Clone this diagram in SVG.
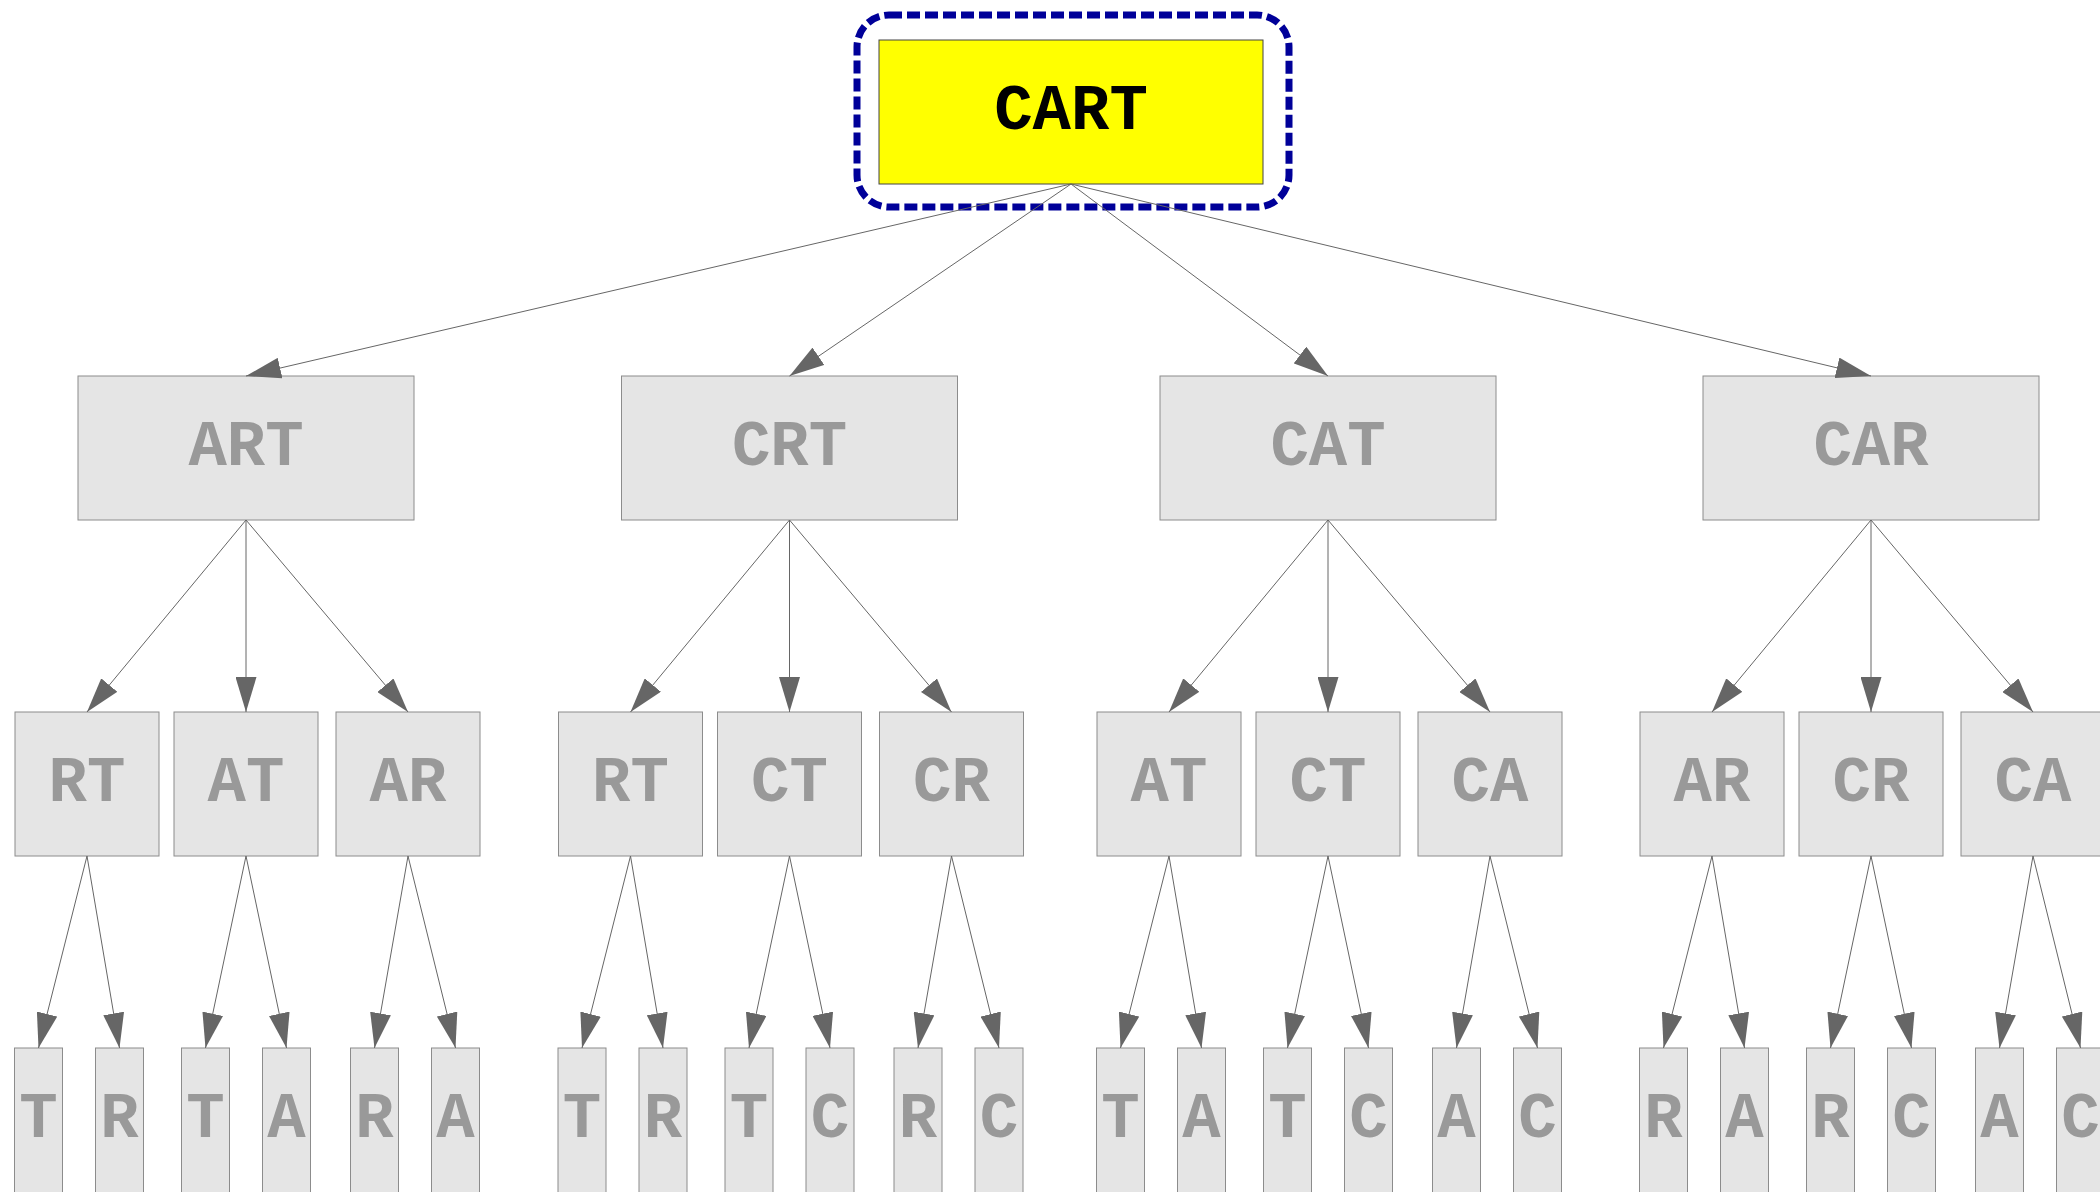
<svg xmlns="http://www.w3.org/2000/svg" width="2100" height="1192" viewBox="0 0 2100 1192">
  <style>
    .box { fill: #e5e5e5; stroke: #8c8c8c; stroke-width: 1; }
    .root { fill: #ffff00; stroke: #444; stroke-width: 1; }
    .lbl { font-family: "Courier New", "Nimbus Mono PS", "Nimbus Mono L", "FreeMono", Courier, "Liberation Mono", monospace; font-weight: bold; font-size: 64px; text-anchor: middle; fill: #999; }
    .rootlbl { fill: #000; }
    .edge { stroke: #666; stroke-width: 1; fill: none; marker-end: url(#arr); }
    .cluster { fill: none; stroke: #000099; stroke-width: 7; stroke-dasharray: 13 5; }
  </style>
  <defs>
    <marker id="arr" markerUnits="userSpaceOnUse" viewBox="0 0 35 21" markerWidth="35" markerHeight="21" refX="35" refY="10.5" orient="auto">
      <path d="M0,0 L35,10.5 L0,21 Z" fill="#666"/>
    </marker>
  </defs>
  <rect width="2100" height="1192" fill="#fff"/>

  <!-- highlighted start word -->
  <rect class="cluster" x="857" y="15" width="432" height="192" rx="32" ry="32"/>

  <g id="n-CART">
    <rect class="root" x="879" y="40" width="384" height="144"/>
    <text class="lbl rootlbl" x="1071" y="129">CART</text>
  </g>

  <!-- level 1 -->
  <g id="n-ART"><rect class="box" x="78" y="376" width="336" height="144"/><text class="lbl" x="246" y="465">ART</text></g>
  <g id="n-CRT"><rect class="box" x="621.5" y="376" width="336" height="144"/><text class="lbl" x="789.5" y="465">CRT</text></g>
  <g id="n-CAT"><rect class="box" x="1160" y="376" width="336" height="144"/><text class="lbl" x="1328" y="465">CAT</text></g>
  <g id="n-CAR"><rect class="box" x="1703" y="376" width="336" height="144"/><text class="lbl" x="1871" y="465">CAR</text></g>

  <!-- level 2 -->
  <g id="n-ART-RT"><rect class="box" x="15" y="712" width="144" height="144"/><text class="lbl" x="87" y="801">RT</text></g>
  <g id="n-ART-AT"><rect class="box" x="174" y="712" width="144" height="144"/><text class="lbl" x="246" y="801">AT</text></g>
  <g id="n-ART-AR"><rect class="box" x="336" y="712" width="144" height="144"/><text class="lbl" x="408" y="801">AR</text></g>
  <g id="n-CRT-RT"><rect class="box" x="558.5" y="712" width="144" height="144"/><text class="lbl" x="630.5" y="801">RT</text></g>
  <g id="n-CRT-CT"><rect class="box" x="717.5" y="712" width="144" height="144"/><text class="lbl" x="789.5" y="801">CT</text></g>
  <g id="n-CRT-CR"><rect class="box" x="879.5" y="712" width="144" height="144"/><text class="lbl" x="951.5" y="801">CR</text></g>
  <g id="n-CAT-AT"><rect class="box" x="1097" y="712" width="144" height="144"/><text class="lbl" x="1169" y="801">AT</text></g>
  <g id="n-CAT-CT"><rect class="box" x="1256" y="712" width="144" height="144"/><text class="lbl" x="1328" y="801">CT</text></g>
  <g id="n-CAT-CA"><rect class="box" x="1418" y="712" width="144" height="144"/><text class="lbl" x="1490" y="801">CA</text></g>
  <g id="n-CAR-AR"><rect class="box" x="1640" y="712" width="144" height="144"/><text class="lbl" x="1712" y="801">AR</text></g>
  <g id="n-CAR-CR"><rect class="box" x="1799" y="712" width="144" height="144"/><text class="lbl" x="1871" y="801">CR</text></g>
  <g id="n-CAR-CA"><rect class="box" x="1961" y="712" width="144" height="144"/><text class="lbl" x="2033" y="801">CA</text></g>

  <!-- level 3 -->
  <g id="n-1"><rect class="box" x="14.5" y="1048" width="48" height="150"/><text class="lbl" x="38.5" y="1137">T</text></g>
  <g id="n-2"><rect class="box" x="95.5" y="1048" width="48" height="150"/><text class="lbl" x="119.5" y="1137">R</text></g>
  <g id="n-3"><rect class="box" x="181.5" y="1048" width="48" height="150"/><text class="lbl" x="205.5" y="1137">T</text></g>
  <g id="n-4"><rect class="box" x="262.5" y="1048" width="48" height="150"/><text class="lbl" x="286.5" y="1137">A</text></g>
  <g id="n-5"><rect class="box" x="350.5" y="1048" width="48" height="150"/><text class="lbl" x="374.5" y="1137">R</text></g>
  <g id="n-6"><rect class="box" x="431.5" y="1048" width="48" height="150"/><text class="lbl" x="455.5" y="1137">A</text></g>
  <g id="n-7"><rect class="box" x="558" y="1048" width="48" height="150"/><text class="lbl" x="582" y="1137">T</text></g>
  <g id="n-8"><rect class="box" x="639" y="1048" width="48" height="150"/><text class="lbl" x="663" y="1137">R</text></g>
  <g id="n-9"><rect class="box" x="725" y="1048" width="48" height="150"/><text class="lbl" x="749" y="1137">T</text></g>
  <g id="n-10"><rect class="box" x="806" y="1048" width="48" height="150"/><text class="lbl" x="830" y="1137">C</text></g>
  <g id="n-11"><rect class="box" x="894" y="1048" width="48" height="150"/><text class="lbl" x="918" y="1137">R</text></g>
  <g id="n-12"><rect class="box" x="975" y="1048" width="48" height="150"/><text class="lbl" x="999" y="1137">C</text></g>
  <g id="n-13"><rect class="box" x="1096.5" y="1048" width="48" height="150"/><text class="lbl" x="1120.5" y="1137">T</text></g>
  <g id="n-14"><rect class="box" x="1177.5" y="1048" width="48" height="150"/><text class="lbl" x="1201.5" y="1137">A</text></g>
  <g id="n-15"><rect class="box" x="1263.5" y="1048" width="48" height="150"/><text class="lbl" x="1287.5" y="1137">T</text></g>
  <g id="n-16"><rect class="box" x="1344.5" y="1048" width="48" height="150"/><text class="lbl" x="1368.5" y="1137">C</text></g>
  <g id="n-17"><rect class="box" x="1432.5" y="1048" width="48" height="150"/><text class="lbl" x="1456.5" y="1137">A</text></g>
  <g id="n-18"><rect class="box" x="1513.5" y="1048" width="48" height="150"/><text class="lbl" x="1537.5" y="1137">C</text></g>
  <g id="n-19"><rect class="box" x="1639.5" y="1048" width="48" height="150"/><text class="lbl" x="1663.5" y="1137">R</text></g>
  <g id="n-20"><rect class="box" x="1720.5" y="1048" width="48" height="150"/><text class="lbl" x="1744.5" y="1137">A</text></g>
  <g id="n-21"><rect class="box" x="1806.5" y="1048" width="48" height="150"/><text class="lbl" x="1830.5" y="1137">R</text></g>
  <g id="n-22"><rect class="box" x="1887.5" y="1048" width="48" height="150"/><text class="lbl" x="1911.5" y="1137">C</text></g>
  <g id="n-23"><rect class="box" x="1975.5" y="1048" width="48" height="150"/><text class="lbl" x="1999.5" y="1137">A</text></g>
  <g id="n-24"><rect class="box" x="2056.5" y="1048" width="48" height="150"/><text class="lbl" x="2080.5" y="1137">C</text></g>

  <!-- connectors -->
  <g id="edges">
    <line class="edge" x1="1071" y1="184" x2="246" y2="376"/>
    <line class="edge" x1="1071" y1="184" x2="789.5" y2="376"/>
    <line class="edge" x1="1071" y1="184" x2="1328" y2="376"/>
    <line class="edge" x1="1071" y1="184" x2="1871" y2="376"/>

    <line class="edge" x1="246" y1="520" x2="87" y2="712"/>
    <line class="edge" x1="246" y1="520" x2="246" y2="712"/>
    <line class="edge" x1="246" y1="520" x2="408" y2="712"/>
    <line class="edge" x1="789.5" y1="520" x2="630.5" y2="712"/>
    <line class="edge" x1="789.5" y1="520" x2="789.5" y2="712"/>
    <line class="edge" x1="789.5" y1="520" x2="951.5" y2="712"/>
    <line class="edge" x1="1328" y1="520" x2="1169" y2="712"/>
    <line class="edge" x1="1328" y1="520" x2="1328" y2="712"/>
    <line class="edge" x1="1328" y1="520" x2="1490" y2="712"/>
    <line class="edge" x1="1871" y1="520" x2="1712" y2="712"/>
    <line class="edge" x1="1871" y1="520" x2="1871" y2="712"/>
    <line class="edge" x1="1871" y1="520" x2="2033" y2="712"/>

    <line class="edge" x1="87" y1="856" x2="38.5" y2="1048"/>
    <line class="edge" x1="87" y1="856" x2="119.5" y2="1048"/>
    <line class="edge" x1="246" y1="856" x2="205.5" y2="1048"/>
    <line class="edge" x1="246" y1="856" x2="286.5" y2="1048"/>
    <line class="edge" x1="408" y1="856" x2="374.5" y2="1048"/>
    <line class="edge" x1="408" y1="856" x2="455.5" y2="1048"/>
    <line class="edge" x1="630.5" y1="856" x2="582" y2="1048"/>
    <line class="edge" x1="630.5" y1="856" x2="663" y2="1048"/>
    <line class="edge" x1="789.5" y1="856" x2="749" y2="1048"/>
    <line class="edge" x1="789.5" y1="856" x2="830" y2="1048"/>
    <line class="edge" x1="951.5" y1="856" x2="918" y2="1048"/>
    <line class="edge" x1="951.5" y1="856" x2="999" y2="1048"/>
    <line class="edge" x1="1169" y1="856" x2="1120.5" y2="1048"/>
    <line class="edge" x1="1169" y1="856" x2="1201.5" y2="1048"/>
    <line class="edge" x1="1328" y1="856" x2="1287.5" y2="1048"/>
    <line class="edge" x1="1328" y1="856" x2="1368.5" y2="1048"/>
    <line class="edge" x1="1490" y1="856" x2="1456.5" y2="1048"/>
    <line class="edge" x1="1490" y1="856" x2="1537.5" y2="1048"/>
    <line class="edge" x1="1712" y1="856" x2="1663.5" y2="1048"/>
    <line class="edge" x1="1712" y1="856" x2="1744.5" y2="1048"/>
    <line class="edge" x1="1871" y1="856" x2="1830.5" y2="1048"/>
    <line class="edge" x1="1871" y1="856" x2="1911.5" y2="1048"/>
    <line class="edge" x1="2033" y1="856" x2="1999.5" y2="1048"/>
    <line class="edge" x1="2033" y1="856" x2="2080.5" y2="1048"/>
  </g>
</svg>
